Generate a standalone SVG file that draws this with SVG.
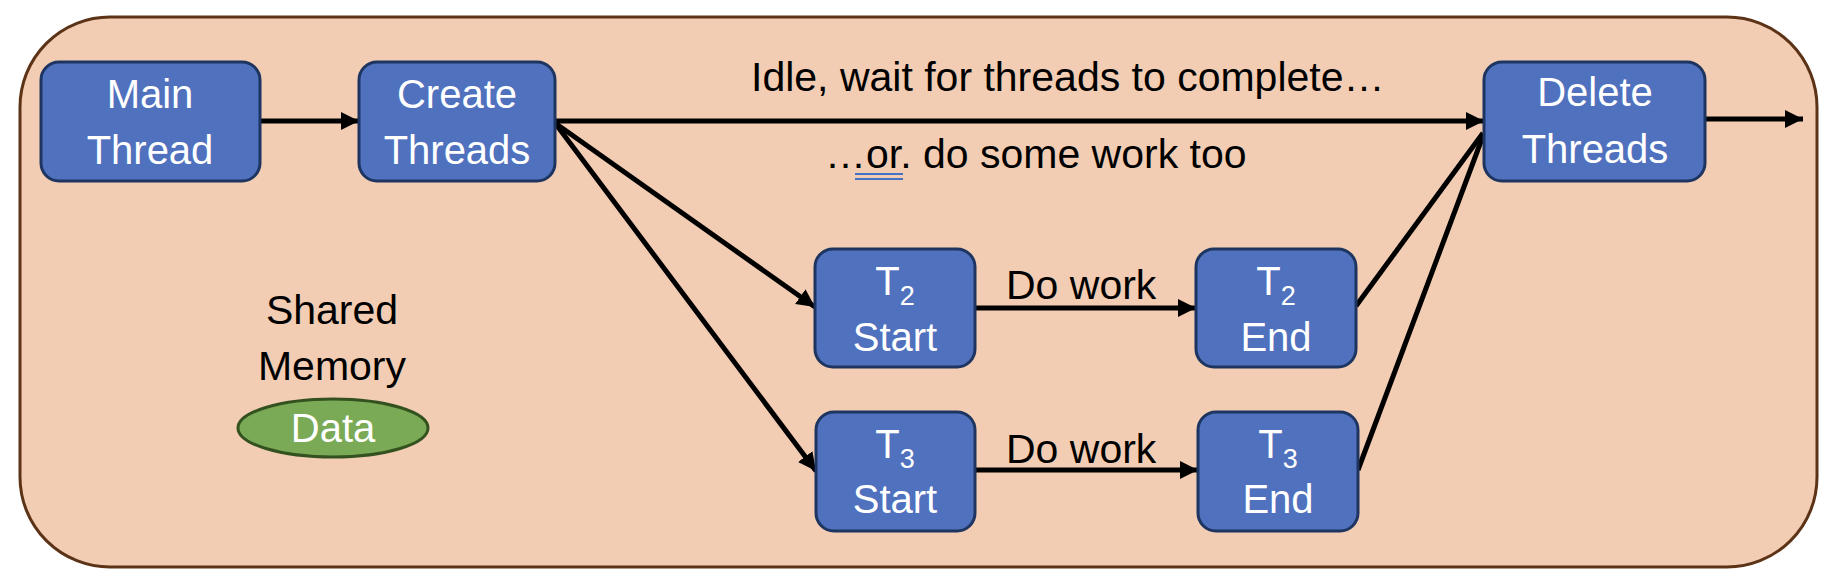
<svg xmlns="http://www.w3.org/2000/svg" width="1836" height="584" viewBox="0 0 1836 584">
  <defs>
    <marker id="ah" markerUnits="userSpaceOnUse" markerWidth="20" markerHeight="20" refX="18" refY="9" orient="auto" viewBox="0 0 20 20">
      <path d="M0,0 L18,9 L0,18 z" fill="#000"/>
    </marker>
    <style>
      .box { fill: #4F71BE; stroke: #1F3561; stroke-width: 3; }
      .lbl { font-family: "Liberation Sans", Arial, sans-serif; font-size: 40px; fill: #FFFFFF; text-anchor: middle; }
      .sub { font-size: 27px; }
      .txt { font-family: "Liberation Sans", Arial, sans-serif; font-size: 41px; fill: #000000; }
      .conn line { stroke: #000; stroke-width: 5; fill: none; }
    </style>
  </defs>
  <rect x="0" y="0" width="1836" height="584" fill="#FFFFFF"/>
  <g id="shared-memory-region">
    <rect x="20" y="17" width="1797" height="550" rx="90" ry="90" fill="#F2CDB3" stroke="#5C3317" stroke-width="3"/>
  </g>

  <g class="conn" id="connectors">
    <line x1="260" y1="121" x2="359" y2="121" marker-end="url(#ah)"/>
    <line x1="555" y1="121" x2="1484" y2="121" marker-end="url(#ah)"/>
    <line x1="555" y1="123" x2="815" y2="307" marker-end="url(#ah)"/>
    <line x1="555" y1="123" x2="816" y2="471" marker-end="url(#ah)"/>
    <line x1="975" y1="308" x2="1196" y2="308" marker-end="url(#ah)"/>
    <line x1="975" y1="470" x2="1198" y2="470" marker-end="url(#ah)"/>
    <line x1="1356" y1="306" x2="1483" y2="133"/>
    <line x1="1358" y1="470" x2="1483" y2="136"/>
    <line x1="1705" y1="119" x2="1803" y2="119" marker-end="url(#ah)"/>
  </g>

  <g id="idle-label">
    <text class="txt" x="751" y="91">Idle, wait for threads to complete…</text>
  </g>
  <g id="or-label">
    <text class="txt" x="825" y="168">…or. do some work too</text>
    <line x1="855" y1="174" x2="903" y2="174" stroke="#4472C4" stroke-width="2"/>
    <line x1="855" y1="179" x2="903" y2="179" stroke="#4472C4" stroke-width="2"/>
  </g>
  <g id="dowork-t2">
    <text class="txt" x="1006" y="299">Do work</text>
  </g>
  <g id="dowork-t3">
    <text class="txt" x="1006" y="463">Do work</text>
  </g>

  <g id="main-thread">
    <rect class="box" x="41" y="62" width="219" height="119" rx="18"/>
    <text class="lbl" x="150" y="108">Main</text>
    <text class="lbl" x="150" y="164">Thread</text>
  </g>
  <g id="create-threads">
    <rect class="box" x="359" y="62" width="196" height="119" rx="18"/>
    <text class="lbl" x="457" y="108">Create</text>
    <text class="lbl" x="457" y="164">Threads</text>
  </g>
  <g id="delete-threads">
    <rect class="box" x="1484" y="62" width="221" height="119" rx="18"/>
    <text class="lbl" x="1595" y="106">Delete</text>
    <text class="lbl" x="1595" y="163">Threads</text>
  </g>
  <g id="t2-start">
    <rect class="box" x="815" y="249" width="160" height="118" rx="18"/>
    <text class="lbl" x="895" y="295">T<tspan class="sub" dy="10">2</tspan></text>
    <text class="lbl" x="895" y="351">Start</text>
  </g>
  <g id="t2-end">
    <rect class="box" x="1196" y="249" width="160" height="118" rx="18"/>
    <text class="lbl" x="1276" y="295">T<tspan class="sub" dy="10">2</tspan></text>
    <text class="lbl" x="1276" y="351">End</text>
  </g>
  <g id="t3-start">
    <rect class="box" x="816" y="412" width="159" height="119" rx="18"/>
    <text class="lbl" x="895" y="458">T<tspan class="sub" dy="10">3</tspan></text>
    <text class="lbl" x="895" y="513">Start</text>
  </g>
  <g id="t3-end">
    <rect class="box" x="1198" y="412" width="160" height="119" rx="18"/>
    <text class="lbl" x="1278" y="458">T<tspan class="sub" dy="10">3</tspan></text>
    <text class="lbl" x="1278" y="513">End</text>
  </g>

  <g id="shared-memory-label">
    <text class="txt" x="332" y="324" text-anchor="middle">Shared</text>
    <text class="txt" x="332" y="380" text-anchor="middle">Memory</text>
  </g>
  <g id="data">
    <ellipse cx="333" cy="428" rx="95" ry="29" fill="#7AAA55" stroke="#34521F" stroke-width="3"/>
    <text class="lbl" x="333" y="442">Data</text>
  </g>
</svg>
